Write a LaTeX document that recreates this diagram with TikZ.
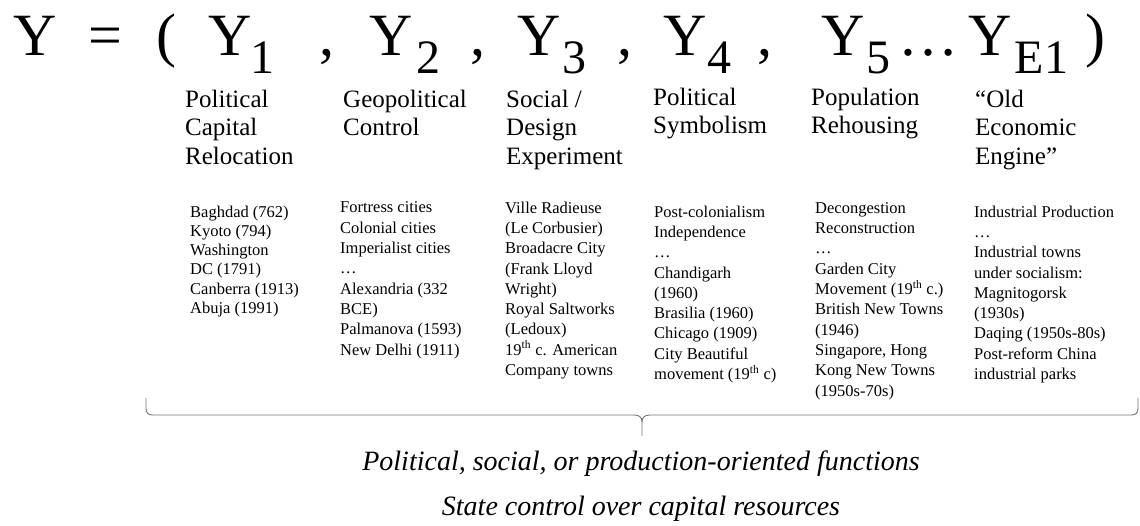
\documentclass[tikz,border=0pt]{standalone}
\usepackage{fontspec}
\setmainfont{Liberation Serif}
\begin{document}
\begin{tikzpicture}[x=1pt,y=-1pt,
  eqbig/.style={font=\fontsize{60}{60}\selectfont, inner sep=0pt, anchor=base},
  eqsub/.style={font=\fontsize{48}{48}\selectfont, inner sep=0pt, anchor=base},
  colhead/.style={font=\fontsize{25}{28.5}\selectfont, align=left, inner sep=0pt, anchor=base west},
  colbody/.style={font=\fontsize{16.5}{20.3}\selectfont, align=left, inner sep=0pt, anchor=base west},
  functext/.style={font=\fontsize{28}{28}\selectfont\itshape, inner sep=0pt, anchor=base},
  bracestyle/.style={draw=black!55, line width=0.9pt}]
\useasboundingbox (0,0) rectangle (1140,525);

% the vector Y = (Y_1, ..., Y_E1)
\node[eqbig] (y)   at (35,55)    {Y};
\node[eqbig] (eq)  at (105.5,55) {=};
\node[eqbig] (lp)  at (166.5,55) {(};
\node[eqbig] (y1)  at (230.5,55) {Y};
\node[eqsub] (s1)  at (262.5,73) {1};
\node[eqbig] (c1)  at (326.5,55) {,};
\node[eqbig] (y2)  at (391,55)   {Y};
\node[eqsub] (s2)  at (428,73)   {2};
\node[eqbig] (c2)  at (478,55)   {,};
\node[eqbig] (y3)  at (539.5,55) {Y};
\node[eqsub] (s3)  at (574,73)   {3};
\node[eqbig] (c3)  at (625,55)   {,};
\node[eqbig] (y4)  at (685,55)   {Y};
\node[eqsub] (s4)  at (719,73)   {4};
\node[eqbig] (c4)  at (765,55)   {,};
\node[eqbig] (y5)  at (843.5,55) {Y};
\node[eqsub] (s5)  at (878.5,73) {5};
\node[eqbig] (dots) at (928,55)  {…};
\node[eqbig] (ye)  at (990,55)   {Y};
\node[eqsub] (se)  at (1041.5,73) {E1};
\node[eqbig] (rp)  at (1095.5,55) {)};

% column headings (positioned by the baseline of their last line)
\node[colhead] (h1) at (185,164)   {Political\\Capital\\Relocation};
\node[colhead] (h2) at (343,135.5) {Geopolitical\\Control};
\node[colhead] (h3) at (506,164)   {Social /\\Design\\Experiment};
\node[colhead] (h4) at (653,133.5) {Political\\Symbolism};
\node[colhead] (h5) at (811,133.5) {Population\\Rehousing};
\node[colhead] (h6) at (975,164)   {“Old\\Economic\\Engine”};

% examples under each heading (positioned by the baseline of their last line)
\node[colbody, font=\fontsize{16.5}{19.3}\selectfont] (b1) at (190,313.5)
  {Baghdad (762)\\Kyoto (794)\\Washington\\DC (1791)\\Canberra (1913)\\Abuja (1991)};
\node[colbody] (b2) at (340,355)
  {Fortress cities\\Colonial cities\\Imperialist cities\\…\\Alexandria (332\\BCE)\\Palmanova (1593)\\New Delhi (1911)};
\node[colbody] (b3) at (505,375.5)
  {Ville Radieuse\\(Le Corbusier)\\Broadacre City\\(Frank Lloyd\\Wright)\\Royal Saltworks\\(Ledoux)\\19\textsuperscript{th} c. American\\Company towns};
\node[colbody] (b4) at (654,379.5)
  {Post-colonialism\\Independence\\…\\Chandigarh\\(1960)\\Brasilia (1960)\\Chicago (1909)\\City Beautiful\\movement (19\textsuperscript{th} c)};
\node[colbody] (b5) at (815,396)
  {Decongestion\\Reconstruction\\…\\Garden City\\Movement (19\textsuperscript{th} c.)\\British New Towns\\(1946)\\Singapore, Hong\\Kong New Towns\\(1950s-70s)};
\node[colbody] (b6) at (974,379.5)
  {Industrial Production\\…\\Industrial towns\\under socialism:\\Magnitogorsk\\(1930s)\\Daqing (1950s-80s)\\Post-reform China\\industrial parks};

% brace gathering all columns
\draw[bracestyle] (146,398) -- (146,408) .. controls (146,413) and (148,415) .. (153,415)
  -- (634,415) .. controls (639,415) and (642,417) .. (642,422) -- (642,436);
\draw[bracestyle] (642,422) .. controls (642,417) and (645,415) .. (650,415)
  -- (1131,415) .. controls (1136,415) and (1138,413) .. (1138,408) -- (1138,398);

% summary lines
\node[functext] (f1) at (641,470) {Political, social, or production-oriented functions};
\node[functext] (f2) at (641,515) {State control over capital resources};
\end{tikzpicture}
\end{document}
